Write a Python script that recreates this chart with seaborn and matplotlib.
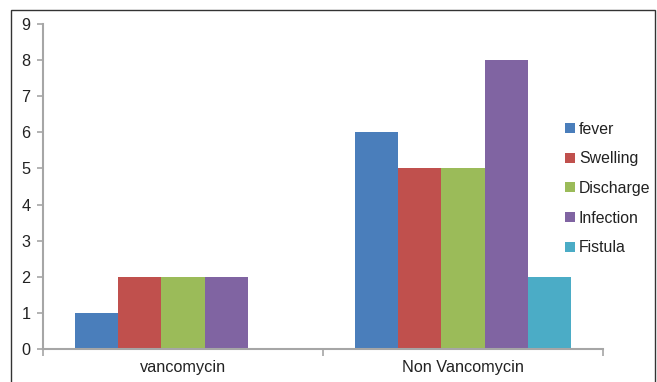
import matplotlib
matplotlib.use("Agg")
import matplotlib.pyplot as plt
from matplotlib.patches import Rectangle
import seaborn as sns
import pandas as pd

groups = ["vancomycin", "Non Vancomycin"]
symptoms = ["fever", "Swelling", "Discharge", "Infection", "Fistula"]
vancomycin_counts = [1, 2, 2, 2, 0]
non_vancomycin_counts = [6, 5, 5, 8, 2]
palette = ["#4A7EBB", "#C0504D", "#9BBB59", "#8064A2", "#4BACC6"]

rows = []
for s, v in zip(symptoms, vancomycin_counts):
    rows.append({"group": groups[0], "symptom": s, "count": v})
for s, v in zip(symptoms, non_vancomycin_counts):
    rows.append({"group": groups[1], "symptom": s, "count": v})
df = pd.DataFrame(rows)

sns.set_style("white")
plt.rcParams["font.family"] = ["Liberation Sans", "DejaVu Sans"]

fig = plt.figure(figsize=(6.57, 3.82), dpi=100)
ax = fig.add_axes([43 / 657, 1 - 349 / 382, (603 - 43) / 657, (349 - 24) / 382])

sns.barplot(data=df, x="group", y="count", hue="symptom", order=groups,
            hue_order=symptoms, palette=palette, width=0.77, gap=0,
            saturation=1, ax=ax, legend=True, linewidth=0)

ax.set_xlim(-0.5, 1.5)
ax.set_ylim(0, 9)
ax.set_yticks(range(10))
ax.set_xlabel("")
ax.set_ylabel("")

for side in ["top", "right"]:
    ax.spines[side].set_visible(False)
for side in ["left", "bottom"]:
    ax.spines[side].set_color("#A6A6A6")
    ax.spines[side].set_linewidth(1.5)

ax.tick_params(axis="y", direction="out", length=4, width=1.2,
               color="#A6A6A6", labelsize=11.7, labelcolor="#222222", pad=5, left=True)
ax.tick_params(axis="x", which="major", length=0, labelsize=11.7,
               labelcolor="#222222", pad=8)
ax.set_xticks([-0.5, 0.5, 1.5], minor=True)
ax.tick_params(axis="x", which="minor", direction="out", length=5,
               width=1.2, color="#A6A6A6", bottom=True)

leg = ax.legend(loc="center left", bbox_to_anchor=(559 / 657, 1 - 188.5 / 382),
                bbox_transform=fig.transFigure, frameon=False, fontsize=11.4,
                handlelength=0.6, handleheight=0.6, handletextpad=0.25,
                labelspacing=0.93, borderaxespad=0)
for t in leg.get_texts():
    t.set_color("#222222")

fig.patches.append(Rectangle((11 / 657, -0.05), (655 - 11) / 657, 1 - 10 / 382 + 0.05,
                             transform=fig.transFigure, fill=False,
                             edgecolor="#333333", linewidth=1.0))

fig.savefig("out.png", dpi=100)
